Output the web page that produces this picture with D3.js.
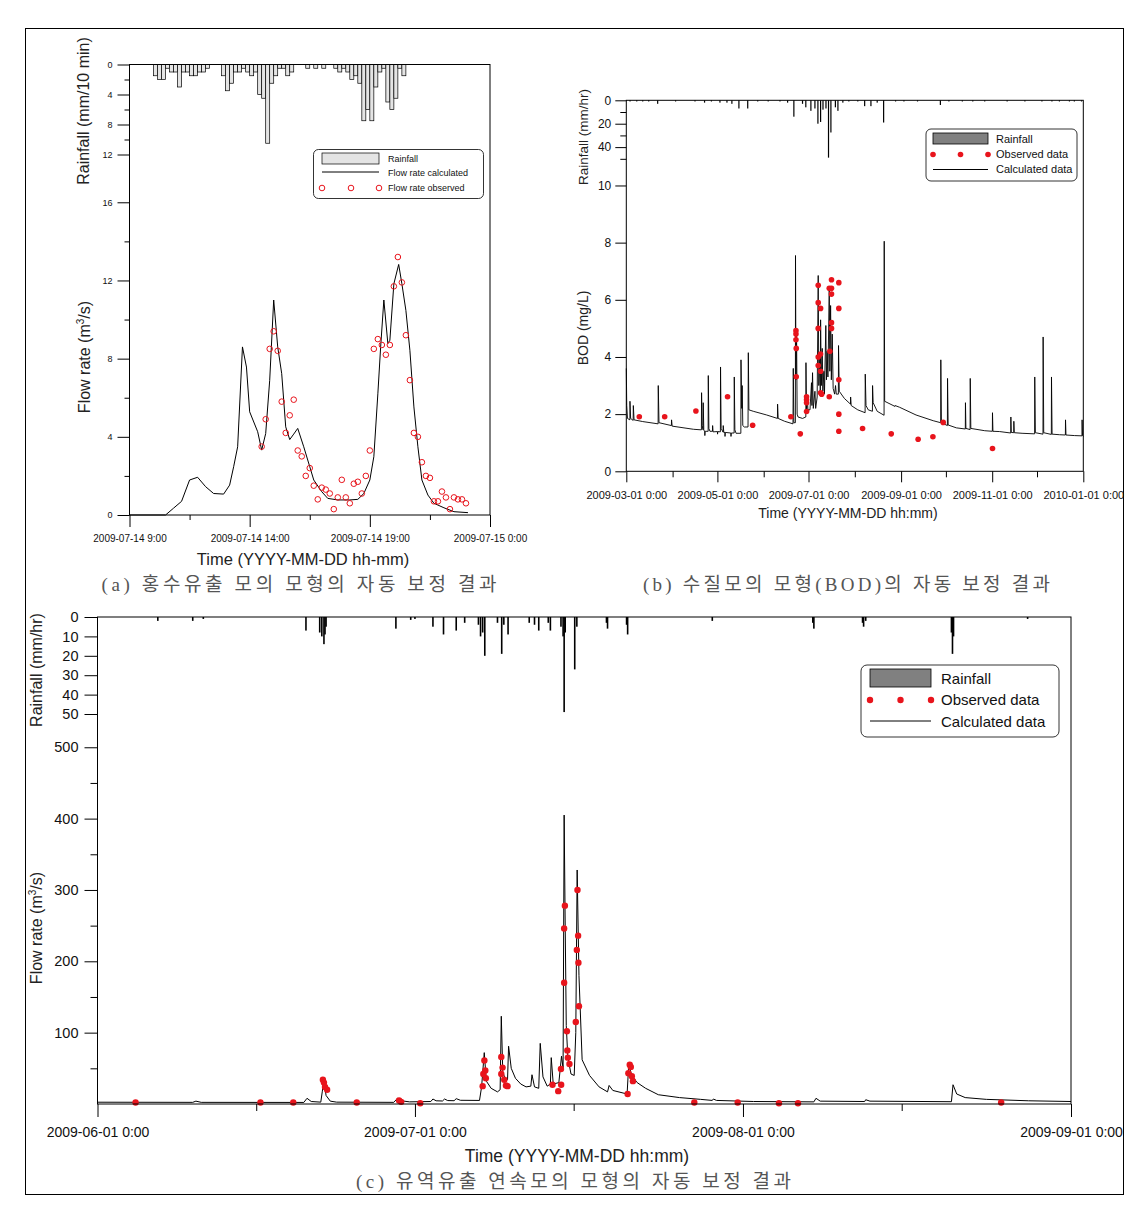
<!DOCTYPE html>
<html><head><meta charset="utf-8">
<script src="https://cdn.jsdelivr.net/npm/d3@7"></script>
<style>
body{margin:0;background:#fff}
svg{display:block}
</style>
</head><body>
<svg id="chart" width="1141" height="1206"></svg>
<script>
// ---------------- DATA ----------------
// Panel (a): 2009-07-14 flood event (times hh:mm)
const rainA = [["10:00",1.5],["10:10",2],["10:20",2],["10:30",0.5],["10:40",1],["10:50",1],["11:00",3],["11:10",1],["11:20",1],["11:30",1.5],["11:40",1.5],["11:50",1],["12:00",1],["12:10",0.5],
["12:50",1.5],["13:00",3.5],["13:10",2.5],["13:20",1],["13:30",1],["13:40",0.5],["13:50",1],["14:00",1.5],["14:10",1],["14:20",4],["14:30",4.5],["14:40",10.5],["14:50",2.5],["15:00",1.5],["15:10",0.5],["15:20",0.5],["15:30",1.5],["15:40",1],
["16:20",0.5],["16:40",0.5],["17:00",0.5],["17:30",0.5],["17:40",1],["17:50",0.5],["18:00",1],["18:10",2],["18:20",1.5],["18:30",2.5],["18:40",7.5],["18:50",6],["19:00",7.5],["19:10",3],["19:20",1],["19:30",0.5],["19:40",5],["19:50",6],["20:00",4.5],["20:10",0.5],["20:20",1.5]];
const flowCalcA = [["09:00",0],["10:30",0],["10:50",0.35],["11:10",0.7],["11:30",1.79],["11:50",1.93],["12:10",1.45],["12:30",1.1],["12:55",1.07],["13:10",1.53],["13:20",2.47],["13:30",3.49],["13:42",8.6],["13:52",7.57],["14:00",5.28],["14:20",4.26],["14:30",3.32],["14:40",4.17],["14:50",6.89],["15:00",11.0],["15:10",8.6],["15:20",7.23],["15:30",4.51],["15:40",3.86],["15:50",4.14],["16:00",4.43],["16:15",3.49],["16:30",2.47],["16:40",1.79],["17:00",1.19],["17:15",0.85],["17:40",0.77],["18:10",0.77],["18:30",0.8],["18:45",1.1],["19:00",1.79],["19:10",2.98],["19:20",6.2],["19:27",8.6],["19:35",11.0],["19:45",8.77],["19:50",8.94],["20:00",11.83],["20:12",12.82],["20:20",11.83],["20:30",10.47],["20:40",8.43],["20:50",5.53],["21:00",3.49],["21:10",1.79],["21:25",1.02],["21:40",0.6],["22:05",0.37],["22:30",0.17],["23:05",0.12]];
const obsTimesA = ["14:30","14:40","14:50","15:00","15:10","15:20","15:30","15:40","15:50","16:00","16:10","16:20","16:30","16:40","16:50","17:00","17:10","17:20","17:30","17:40","17:50","18:00","18:10","18:20","18:30","18:40","18:50","19:00","19:10","19:20","19:30","19:40","19:50","20:00","20:10","20:20","20:30","20:40","20:50","21:00","21:10","21:20","21:30","21:40","21:50","22:00","22:10","22:20","22:30","22:40","22:50","23:00"];
const obsValsA = [3.5,4.9,8.5,9.4,8.4,5.8,4.2,5.1,5.9,3.3,3.0,2.0,2.4,1.5,0.8,1.4,1.3,1.1,0.3,0.9,1.8,0.9,0.6,1.6,1.7,1.1,2.0,3.3,8.5,9.0,8.7,8.2,8.7,11.7,13.2,11.9,9.2,6.9,4.2,4.0,2.7,2.0,1.9,0.7,0.7,1.2,0.9,0.3,0.9,0.8,0.8,0.6];
const legendA = ["Rainfall","Flow rate calculated","Flow rate observed"];

// Panel (b): BOD, days since 2009-03-01
const rainB = [[2.5,1],[7,1],[11,1],[15,1],[21,3],[33,1],[46,1],[52.4,2],[57,1],[62.7,2],[67.4,2],[70.7,3],[75.4,7],[81.3,7],[88,1],[95,1],[102.9,1],[108,2],[112.2,14],[118,3],[120.2,6],[123.6,9],[126.3,7],[128.3,20],[130.1,18.5],[131.7,8],[133.7,7],[135.4,49],[137,27.5],[140,6],[141.7,9],[145,2],[149,1],[155,1],[159.6,5],[163.8,5],[168,2],[172.3,19],[180.3,1],[185.9,1],[195,1],[210.3,4],[216,1],[225,1],[232,1],[240,1],[255,1],[266.9,1],[278.3,1],[285,1],[290,1],[296.7,1],[300,1],[304.8,1]];
const bodCalc = [[0,3.6],[0.3,2.3],[0.8,1.85],[2.4,1.8],[2.45,2.45],[2.9,1.85],[4.6,1.78],[4.7,2.3],[5.2,1.8],[11,1.74],[21.3,1.66],[21.4,3.0],[21.9,1.7],[30.2,1.6],[30.3,1.8],[30.7,1.58],[45,1.47],[50.3,1.45],[50.4,2.75],[50.8,1.6],[51.4,1.45],[51.5,2.4],[51.9,1.45],[52.5,1.38],[52.6,1.25],[52.8,1.4],[54.8,1.4],[54.9,3.35],[55.3,1.5],[56,1.4],[57.7,1.4],[57.8,1.6],[58.1,1.38],[61,1.39],[61.1,1.3],[61.3,1.39],[63,1.38],[63.1,3.65],[63.5,1.5],[64.8,1.37],[64.9,1.6],[65.3,1.36],[66,1.36],[66.1,1.22],[66.3,1.36],[70,1.34],[70.1,1.22],[70.3,1.34],[72.2,1.34],[72.3,3.3],[72.7,1.45],[73.5,1.33],[76.7,1.33],[76.8,3.9],[77.3,2.2],[77.6,3.0],[78,1.6],[79,1.55],[81.5,1.55],[81.7,4.15],[82.1,2.15],[85,2.1],[94,1.97],[101.2,1.85],[101.3,2.35],[101.7,1.85],[106,1.75],[111.6,1.66],[111.8,3.6],[112.2,1.7],[113.2,1.7],[113.3,7.55],[113.6,3.2],[114,4.9],[114.4,2.0],[115,1.9],[118,1.85],[120.2,1.9],[120.3,3.8],[120.7,2.1],[121.2,2.6],[121.6,2.15],[123,2.15],[124,3.1],[124.3,2.3],[124.7,3.45],[125.2,2.2],[126.3,2.8],[126.8,2.2],[127.8,2.6],[128.5,6.85],[128.9,3.0],[129.6,4.0],[129.9,2.7],[130.1,5.3],[130.6,3.0],[131.2,4.3],[131.6,2.8],[132.3,3.5],[132.7,2.7],[133.6,5.1],[134,3.2],[134.5,4.2],[135,3.3],[135.9,6.4],[136.3,3.5],[136.8,5.8],[137.3,3.2],[137.9,4.8],[138.5,2.9],[139.5,2.7],[140.1,3.0],[140.6,2.7],[142,2.7],[142.1,4.4],[142.6,2.8],[146,2.55],[150.1,2.35],[150.2,2.6],[150.6,2.3],[155,2.15],[159.9,2.05],[160,3.4],[160.5,2.3],[162,2.15],[164.8,2.1],[164.9,3.0],[165.3,2.4],[168,2.1],[172.6,1.96],[172.7,8.05],[173,2.45],[179.9,2.27],[180,2.3],[183,2.24],[194,1.97],[205.5,1.77],[210.5,1.7],[210.6,3.9],[211,1.7],[215,1.6],[215.1,3.25],[215.5,1.62],[221,1.52],[227,1.48],[227.1,2.4],[227.4,1.5],[230.2,1.46],[230.3,3.25],[230.7,1.5],[240,1.42],[245.1,1.4],[245.2,2.05],[245.5,1.4],[250,1.39],[257.4,1.34],[257.5,1.9],[257.8,1.36],[259.4,1.35],[259.5,1.75],[259.8,1.35],[265,1.33],[273.4,1.31],[273.5,3.3],[273.9,1.35],[279,1.3],[279.1,4.7],[279.5,1.35],[284.6,1.29],[284.7,3.3],[285.1,1.3],[290,1.28],[294,1.27],[294.1,1.8],[294.4,1.27],[300,1.25],[305.1,1.24],[305.2,1.8],[305.5,1.25],[306,1.22]];
const bodObs = [[8.7,1.91],[25.7,1.91],[46.6,2.11],[67.8,2.61],[84.6,1.61],[110.2,1.91],[113.6,4.92],[113.6,4.8],[113.6,4.6],[113.8,4.3],[113.8,3.31],[116.5,1.31],[120.7,2.61],[120.7,2.5],[120.7,2.4],[120.7,2.09],[128.5,6.51],[128.5,5.9],[128.5,5.0],[128.5,4.0],[128.5,3.7],[130.1,5.7],[130.1,4.1],[130.1,3.5],[130.1,2.75],[130.8,2.7],[135.9,6.4],[135.9,2.61],[137.4,6.7],[137.4,6.4],[137.4,6.2],[137.4,5.2],[137.4,5.0],[136.3,4.2],[142.3,6.6],[142.3,5.7],[142.3,3.2],[142.3,2.0],[142.3,1.4],[158.2,1.5],[177.4,1.31],[195.4,1.12],[205.3,1.21],[212.2,1.71],[245.2,0.8]];
const legendB = ["Rainfall","Observed data","Calculated data"];

// Panel (c): continuous runoff, days since 2009-06-01
const rainC = [[5.7,2],[9.0,2],[10,1],[19.7,7],[21.0,8],[21.2,10],[21.4,14],[21.5,9],[21.6,5],[28.2,6],[29.6,1.5],[30,1],[31.7,5],[32.7,9],[33.9,7],[34.7,3],[36.0,4],[36.2,10],[36.4,8],[36.6,20],[37.8,3],[38.2,19],[38.4,4],[38.8,9],[40.8,3],[41.3,4],[41.7,7],[42.6,3],[42.8,7],[43.8,5],[44.0,10],[44.1,49],[44.2,8],[45.1,27],[45.3,5],[48.1,3],[48.2,6],[50.0,4],[50.1,9],[58.1,2],[67.6,3],[67.7,6],[72.3,3],[72.4,5],[72.6,2],[80.7,8],[80.8,19],[80.9,10],[87.9,1]];
const flowCalcC = [[0,2.5],[9.0,2.3],[9.3,4],[9.8,2.3],[19.5,2.2],[19.8,8],[20.2,3.5],[21.1,2.6],[21.25,18],[21.4,34],[21.6,12],[22.0,4],[22.6,2.6],[28.0,2.3],[28.35,8],[28.7,4.5],[29.5,3],[31.5,3.5],[31.7,7],[32.0,4.5],[32.6,4.2],[32.8,7],[33.1,4.8],[33.7,4.6],[33.9,7.5],[34.3,5.2],[36.1,5],[36.3,24],[36.55,72],[36.75,32],[37.2,22],[37.8,17],[38.05,20],[38.16,123],[38.3,45],[38.6,32],[38.75,34],[38.85,81],[39.1,50],[39.5,36],[40.0,28],[40.5,24],[40.95,25],[41.06,41],[41.3,24],[41.7,22],[41.84,85],[42.1,38],[42.5,25],[42.8,28],[42.88,65],[43.07,28],[43.6,30],[43.85,67],[44.0,50],[44.1,405],[44.2,250],[44.3,110],[44.45,65],[44.75,42],[45.05,40],[45.2,100],[45.33,328],[45.5,180],[45.8,62],[46.5,40],[47.4,24],[48.2,17],[48.35,26],[48.7,19],[50.05,14],[50.2,55],[50.5,40],[51.0,30],[51.8,22],[53,13],[55,9],[57,6.5],[58.1,5],[58.2,7],[58.5,5],[62,3.5],[67.7,3],[67.9,8],[68.3,4],[72.5,3.5],[72.6,6],[73,4],[80.7,3.2],[80.85,27],[81.2,14],[82,9],[84,6.5],[88,4.5],[92,3.5]];
const flowObsC = [[3.6,2],[15.4,2],[18.5,2],[21.3,34],[21.4,30],[21.5,24],[21.7,20],[24.5,2],[28.5,5],[28.7,3],[30.5,1],[36.4,25],[36.46,42],[36.56,61],[36.65,47],[36.7,36],[38.16,66],[38.16,42],[38.28,51],[38.44,34],[38.6,26],[38.75,25],[43.0,27],[43.54,18],[43.82,27],[43.8,49],[44.1,170],[44.1,246],[44.17,278],[44.36,102],[44.4,75],[44.45,65],[44.6,56],[45.2,115],[45.36,300],[45.42,236],[45.3,216],[45.45,198],[45.5,137],[50.1,14],[50.17,43],[50.3,55],[50.4,52],[50.5,39],[50.6,32],[56.4,2],[60.5,2],[64.4,1],[66.2,1],[85.4,2]];
const legendC = ["Rainfall","Observed data","Calculated data"];

// Tick values
const rainTicksA = [0,4,8,12], rainMinorA = [2,6,10];
const flowTicksA = [0,4,8,12,16], flowMinorA = [2,6,10,14];
const rainTicksB = [0,20,40], rainMinorB = [10,30,50];
const bodTicksB = [0,2,4,6,8,10];
const rainTicksC = [0,10,20,30,40,50];
const flowTicksC = [100,200,300,400,500], flowMinorC = [50,150,250,350,450];

const captions = ["(a) 홍수유출 모의 모형의 자동 보정 결과","(b) 수질모의 모형(BOD)의 자동 보정 결과","(c) 유역유출 연속모의 모형의 자동 보정 결과"];

// ---------------- DRAW ----------------
const FONT = '"Liberation Sans", Arial, Helvetica, sans-serif';
const SERIF = '"Liberation Serif", "Noto Sans CJK KR", serif';
const RED = "#e8141c";
const DAY = 864e5;
const svg = d3.select("#chart");
const parseT = d3.timeParse("%Y-%m-%d %H:%M");
const tA = s => parseT("2009-07-14 " + s);
const baseB = new Date(2009,2,1), baseC = new Date(2009,5,1);
const dB = d => new Date(+baseB + d*DAY);
const dC = d => new Date(+baseC + d*DAY);
const fmt = d3.timeFormat("%Y-%m-%d %-H:%M");

svg.append("rect").attr("x",25.5).attr("y",28.5).attr("width",1098).attr("height",1166)
  .attr("fill","none").attr("stroke","#000").attr("stroke-width",1);

function styleAxis(g, size){
  g.select(".domain").remove();
  g.attr("font-family",FONT);
  g.selectAll("text").attr("font-size",size).attr("fill","#111");
  g.selectAll("line").attr("stroke","#000");
  return g;
}
function frame(x0,x1,y0,y1){
  svg.append("rect").attr("x",x0).attr("y",y0).attr("width",x1-x0).attr("height",y1-y0)
    .attr("fill","none").attr("stroke","#000").attr("stroke-width",1);
}
function txt(x,y,s,size,opts={}){
  const t = svg.append("text").attr("x",x).attr("y",y).text(s)
    .attr("font-family",opts.family||FONT).attr("font-size",size)
    .attr("fill",opts.fill||"#111").attr("text-anchor",opts.anchor||"start");
  if(opts.rotate) t.attr("transform",`rotate(-90,${x},${y})`);
  if(opts.len) t.attr("textLength",opts.len).attr("lengthAdjust","spacing");
  return t;
}

// ===== Panel (a) =====
{
  const x = d3.scaleTime().domain([tA("09:00"), parseT("2009-07-15 00:00")]).range([129.5,490]);
  const yR = d3.scaleLinear().domain([0,60]).range([64.5,514.5]);
  const yF = d3.scaleLinear().domain([0,23.05]).range([515,64.5]);

  svg.append("g").selectAll("rect").data(rainA).join("rect")
    .attr("x",d=>x(tA(d[0]))).attr("width",d=>x(new Date(+tA(d[0])+600000))-x(tA(d[0])))
    .attr("y",yR(0)).attr("height",d=>yR(d[1])-yR(0))
    .attr("fill","#e4e4e4").attr("stroke","#000").attr("stroke-width",0.7);

  svg.append("path").datum(flowCalcA)
    .attr("d",d3.line().x(d=>x(tA(d[0]))).y(d=>yF(d[1])))
    .attr("fill","none").attr("stroke","#000").attr("stroke-width",1);

  svg.append("g").selectAll("circle").data(obsTimesA).join("circle")
    .attr("cx",d=>x(tA(d))).attr("cy",(d,i)=>yF(obsValsA[i])).attr("r",2.8)
    .attr("fill","none").attr("stroke",RED).attr("stroke-width",1);

  frame(129.5,490,64.5,515);

  styleAxis(svg.append("g").attr("transform","translate(129.5,0)")
    .call(d3.axisLeft(yR).tickValues(rainTicksA).tickSize(12).tickPadding(5)),9);
  styleAxis(svg.append("g").attr("transform","translate(129.5,0)")
    .call(d3.axisLeft(yR).tickValues(rainMinorA).tickSize(5).tickFormat("")),9);
  styleAxis(svg.append("g").attr("transform","translate(129.5,0)")
    .call(d3.axisLeft(yF).tickValues(flowTicksA).tickSize(12).tickPadding(5)),9);
  styleAxis(svg.append("g").attr("transform","translate(129.5,0)")
    .call(d3.axisLeft(yF).tickValues(flowMinorA).tickSize(5).tickFormat("")),9);
  styleAxis(svg.append("g").attr("transform","translate(0,515)")
    .call(d3.axisBottom(x).tickValues([tA("09:00"),tA("14:00"),tA("19:00"),parseT("2009-07-15 00:00")])
      .tickSize(12).tickPadding(8).tickFormat(fmt)),10);
  styleAxis(svg.append("g").attr("transform","translate(0,515)")
    .call(d3.axisBottom(x).tickValues([tA("11:30"),tA("16:30"),tA("21:30")]).tickSize(5).tickFormat("")),10);

  txt(88.5,111,"Rainfall (mm/10 min)",16,{anchor:"middle",rotate:true,fill:"#222"});
  const fl = txt(89.5,357,"Flow rate (m",16,{anchor:"middle",rotate:true,fill:"#222"});
  fl.append("tspan").text("3").attr("font-size",10).attr("dy",-6);
  fl.append("tspan").text("/s)").attr("dy",6);
  txt(303,565,"Time (YYYY-MM-DD hh-mm)",16.5,{anchor:"middle",fill:"#222"});
  txt(299,591,captions[0],19,{anchor:"middle",family:SERIF,fill:"#555",len:395});

  // legend
  svg.append("rect").attr("x",313.5).attr("y",149.5).attr("width",170).attr("height",49).attr("rx",5)
    .attr("fill","#fff").attr("stroke","#000").attr("stroke-width",0.8);
  svg.append("rect").attr("x",322).attr("y",153).attr("width",57).attr("height",11)
    .attr("fill","#e4e4e4").attr("stroke","#000").attr("stroke-width",0.7);
  svg.append("line").attr("x1",322).attr("x2",379).attr("y1",172).attr("y2",172).attr("stroke","#000");
  svg.append("g").selectAll("circle").data([322,351,379]).join("circle")
    .attr("cx",d=>d).attr("cy",188).attr("r",2.8).attr("fill","none").attr("stroke",RED);
  legendA.forEach((s,i)=>txt(388,161.5+i*14.8,s,9,{fill:"#111"}));
}

// ===== Panel (b) =====
{
  const x = d3.scaleTime().domain([baseB,new Date(2010,0,1)]).range([626.3,1083.3]);
  const yR = d3.scaleLinear().domain([0,317]).range([100.3,471.3]);
  const yB = d3.scaleLinear().domain([0,12.98]).range([471.3,100.3]);

  svg.append("g").selectAll("rect").data(rainB).join("rect")
    .attr("x",d=>x(dB(d[0]))-0.6).attr("width",1.2)
    .attr("y",yR(0)).attr("height",d=>yR(d[1])-yR(0)).attr("fill","#000");

  svg.append("path").datum(bodCalc)
    .attr("d",d3.line().x(d=>x(dB(d[0]))).y(d=>yB(d[1])))
    .attr("fill","none").attr("stroke","#000").attr("stroke-width",0.9);

  svg.append("g").selectAll("circle").data(bodObs).join("circle")
    .attr("cx",d=>x(dB(d[0]))).attr("cy",d=>yB(d[1])).attr("r",2.8).attr("fill",RED);

  frame(626.3,1083.3,100.3,471.3);

  styleAxis(svg.append("g").attr("transform","translate(626.3,0)")
    .call(d3.axisLeft(yR).tickValues(rainTicksB).tickSize(11).tickPadding(4)),12);
  styleAxis(svg.append("g").attr("transform","translate(626.3,0)")
    .call(d3.axisLeft(yR).tickValues(rainMinorB).tickSize(6).tickFormat("")),12);
  styleAxis(svg.append("g").attr("transform","translate(626.3,0)")
    .call(d3.axisLeft(yB).tickValues(bodTicksB).tickSize(11).tickPadding(4)),12);
  styleAxis(svg.append("g").attr("transform","translate(0,471.3)")
    .call(d3.axisBottom(x).tickValues([new Date(2009,2,1),new Date(2009,4,1),new Date(2009,6,1),new Date(2009,8,1),new Date(2009,10,1),new Date(2010,0,1)])
      .tickSize(11).tickPadding(9).tickFormat(fmt)),11);
  styleAxis(svg.append("g").attr("transform","translate(0,471.3)")
    .call(d3.axisBottom(x).tickValues([new Date(2009,3,1),new Date(2009,5,1),new Date(2009,7,1),new Date(2009,9,1),new Date(2009,11,1)])
      .tickSize(6).tickFormat("")),11);

  txt(587.5,137,"Rainfall (mm/hr)",13.5,{anchor:"middle",rotate:true,fill:"#222"});
  txt(587.5,328,"BOD (mg/L)",14,{anchor:"middle",rotate:true,fill:"#222"});
  txt(848,518,"Time (YYYY-MM-DD hh:mm)",14,{anchor:"middle",fill:"#222"});
  txt(846.5,591,captions[1],19,{anchor:"middle",family:SERIF,fill:"#555",len:407});

  svg.append("rect").attr("x",926).attr("y",129).attr("width",151).attr("height",52).attr("rx",5)
    .attr("fill","#fff").attr("stroke","#000").attr("stroke-width",0.8);
  svg.append("rect").attr("x",933).attr("y",133).attr("width",55).attr("height",11)
    .attr("fill","#808080").attr("stroke","#000").attr("stroke-width",0.8);
  svg.append("g").selectAll("circle").data([933,960.5,988]).join("circle")
    .attr("cx",d=>d).attr("cy",154.5).attr("r",2.8).attr("fill",RED);
  svg.append("line").attr("x1",933).attr("x2",988).attr("y1",169.5).attr("y2",169.5).attr("stroke","#000");
  legendB.forEach((s,i)=>txt(996,143+i*15,s,11,{fill:"#111"}));
}

// ===== Panel (c) =====
{
  const x = d3.scaleTime().domain([baseC,new Date(2009,8,1)]).range([97.5,1071]);
  const yR = d3.scaleLinear().domain([0,251]).range([617,1104]);
  const yF = d3.scaleLinear().domain([0,682.6]).range([1104,617]);

  svg.append("g").selectAll("rect").data(rainC).join("rect")
    .attr("x",d=>x(dC(d[0]))-0.8).attr("width",1.6)
    .attr("y",yR(0)).attr("height",d=>yR(d[1])-yR(0)).attr("fill","#000");

  svg.append("path").datum(flowCalcC)
    .attr("d",d3.line().x(d=>x(dC(d[0]))).y(d=>yF(d[1])))
    .attr("fill","none").attr("stroke","#000").attr("stroke-width",1);

  svg.append("g").selectAll("circle").data(flowObsC).join("circle")
    .attr("cx",d=>x(dC(d[0]))).attr("cy",d=>yF(d[1])).attr("r",3.2).attr("fill",RED);

  frame(97.5,1071,617,1104);

  styleAxis(svg.append("g").attr("transform","translate(97.5,0)")
    .call(d3.axisLeft(yR).tickValues(rainTicksC).tickSize(13).tickPadding(6)),14.5);
  styleAxis(svg.append("g").attr("transform","translate(97.5,0)")
    .call(d3.axisLeft(yF).tickValues(flowTicksC).tickSize(13).tickPadding(6)),14.5);
  styleAxis(svg.append("g").attr("transform","translate(97.5,0)")
    .call(d3.axisLeft(yF).tickValues(flowMinorC).tickSize(7).tickFormat("")),14.5);
  styleAxis(svg.append("g").attr("transform","translate(0,1104)")
    .call(d3.axisBottom(x).tickValues([new Date(2009,5,1),new Date(2009,6,1),new Date(2009,7,1),new Date(2009,8,1)])
      .tickSize(13).tickPadding(10).tickFormat(fmt)),14);
  styleAxis(svg.append("g").attr("transform","translate(0,1104)")
    .call(d3.axisBottom(x).tickValues([new Date(2009,5,16),new Date(2009,6,16),new Date(2009,7,16)])
      .tickSize(7).tickFormat("")),14);

  txt(42,670,"Rainfall (mm/hr)",16,{anchor:"middle",rotate:true,fill:"#222"});
  const fl = txt(42,928,"Flow rate (m",16,{anchor:"middle",rotate:true,fill:"#222"});
  fl.append("tspan").text("3").attr("font-size",10).attr("dy",-6);
  fl.append("tspan").text("/s)").attr("dy",6);
  txt(577,1162,"Time (YYYY-MM-DD hh:mm)",17.5,{anchor:"middle",fill:"#222"});
  txt(573.5,1188,captions[2],19,{anchor:"middle",family:SERIF,fill:"#555",len:435});

  svg.append("rect").attr("x",861).attr("y",665).attr("width",198).attr("height",72).attr("rx",6)
    .attr("fill","#fff").attr("stroke","#000").attr("stroke-width",0.8);
  svg.append("rect").attr("x",870).attr("y",669).attr("width",61).attr("height",18)
    .attr("fill","#808080").attr("stroke","#000").attr("stroke-width",0.8);
  svg.append("g").selectAll("circle").data([870,900.5,931]).join("circle")
    .attr("cx",d=>d).attr("cy",700).attr("r",3.2).attr("fill",RED);
  svg.append("line").attr("x1",870).attr("x2",931).attr("y1",721).attr("y2",721).attr("stroke","#000");
  legendC.forEach((s,i)=>txt(941,683.5+i*21.5,s,15,{fill:"#111"}));
}
</script>
</body></html>
